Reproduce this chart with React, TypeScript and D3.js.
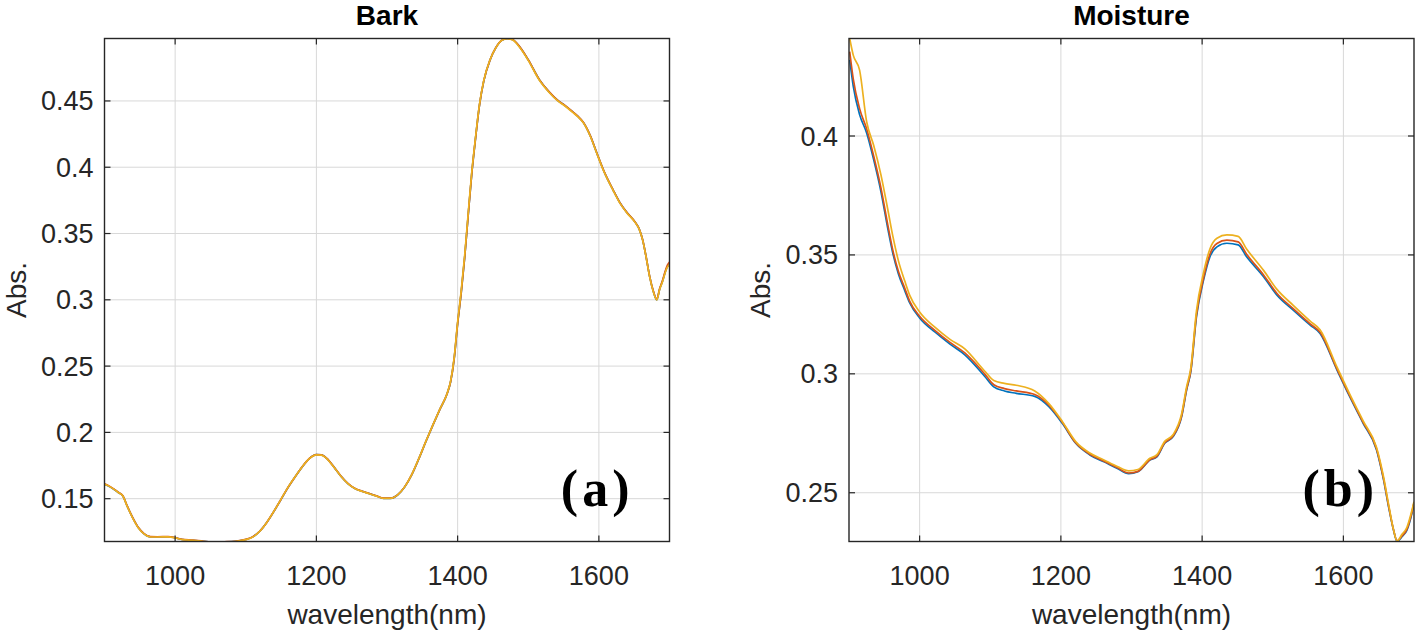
import React from "react";
import * as d3 from "d3";

// ---------- DATA ----------
const xTicks = [1000, 1200, 1400, 1600];
const xTickLabels = ["1000", "1200", "1400", "1600"];
const barkYTicks = [0.15, 0.2, 0.25, 0.3, 0.35, 0.4, 0.45];
const barkYTickLabels = ["0.15", "0.2", "0.25", "0.3", "0.35", "0.4", "0.45"];
const moistYTicks = [0.25, 0.3, 0.35, 0.4];
const moistYTickLabels = ["0.25", "0.3", "0.35", "0.4"];

const barkWl = [900, 904, 912, 920, 926, 932, 940, 948, 956, 965, 975, 990, 1000, 1010, 1025, 1040, 1055, 1070, 1085, 1100, 1110, 1120, 1130, 1140, 1150, 1160, 1170, 1180, 1190, 1200, 1207, 1215, 1225, 1235, 1245, 1255, 1265, 1275, 1285, 1295, 1305, 1315, 1325, 1335, 1345, 1355, 1365, 1375, 1385, 1390, 1395, 1400, 1405, 1410, 1415, 1420, 1425, 1431, 1437, 1446, 1454, 1462, 1470, 1478, 1488, 1500, 1516, 1530, 1541, 1552, 1563, 1570, 1578, 1588, 1597, 1608, 1620, 1630, 1640, 1651, 1657, 1662, 1667, 1672, 1677, 1682, 1686, 1690, 1694, 1697, 1700];
const barkBlue = [0.1608, 0.16, 0.1575, 0.1545, 0.152, 0.1445, 0.1355, 0.128, 0.1235, 0.1212, 0.1212, 0.1213, 0.1205, 0.1192, 0.1186, 0.1178, 0.1172, 0.1174, 0.1178, 0.1192, 0.1212, 0.1255, 0.1322, 0.1405, 0.1495, 0.1585, 0.1665, 0.174, 0.1802, 0.1832, 0.183, 0.1802, 0.1738, 0.1668, 0.1612, 0.1575, 0.1555, 0.1538, 0.152, 0.1503, 0.1503, 0.1528, 0.1588, 0.168, 0.18, 0.193, 0.2055, 0.2175, 0.229, 0.238, 0.255, 0.282, 0.305, 0.332, 0.364, 0.395, 0.42, 0.447, 0.465, 0.481, 0.49, 0.4955, 0.497, 0.4962, 0.4907, 0.481, 0.4658, 0.4565, 0.4507, 0.4465, 0.4417, 0.4385, 0.4338, 0.4235, 0.4108, 0.396, 0.383, 0.373, 0.3656, 0.3588, 0.3535, 0.3452, 0.332, 0.3173, 0.3065, 0.3, 0.308, 0.3138, 0.321, 0.325, 0.327];
const barkRed = [0.1612, 0.1603, 0.1578, 0.1547, 0.1522, 0.1447, 0.1357, 0.1282, 0.1237, 0.1214, 0.1213, 0.1214, 0.1206, 0.1193, 0.1187, 0.1179, 0.1173, 0.1175, 0.1179, 0.1193, 0.1213, 0.1256, 0.1323, 0.1406, 0.1496, 0.1586, 0.1666, 0.1741, 0.1803, 0.1833, 0.1831, 0.1803, 0.1739, 0.1669, 0.1613, 0.1576, 0.1556, 0.1539, 0.1521, 0.1504, 0.1504, 0.1529, 0.1589, 0.1681, 0.1801, 0.1931, 0.2056, 0.2176, 0.2291, 0.2381, 0.2551, 0.2821, 0.3051, 0.3321, 0.3641, 0.3951, 0.4201, 0.4471, 0.4651, 0.4811, 0.4901, 0.4956, 0.4971, 0.4963, 0.4908, 0.4811, 0.4659, 0.4566, 0.4508, 0.4466, 0.4418, 0.4386, 0.4339, 0.4236, 0.4109, 0.3961, 0.3831, 0.3731, 0.3657, 0.3589, 0.3536, 0.3453, 0.3321, 0.3175, 0.3068, 0.3003, 0.3084, 0.3143, 0.3218, 0.3262, 0.3285];
const barkYellow = [0.161, 0.1601, 0.1576, 0.1545, 0.152, 0.1444, 0.1354, 0.1279, 0.1234, 0.1211, 0.1211, 0.1212, 0.1204, 0.1191, 0.1185, 0.1177, 0.1171, 0.1173, 0.1177, 0.1191, 0.1211, 0.1255, 0.1323, 0.1406, 0.1497, 0.1587, 0.1666, 0.1741, 0.1802, 0.1831, 0.1829, 0.1801, 0.1737, 0.1667, 0.1611, 0.1574, 0.1554, 0.1537, 0.1519, 0.1502, 0.1502, 0.1528, 0.1589, 0.1682, 0.1802, 0.1932, 0.2057, 0.2177, 0.2292, 0.2385, 0.2558, 0.2832, 0.3065, 0.3336, 0.3655, 0.3962, 0.4209, 0.4476, 0.4654, 0.4812, 0.49, 0.4955, 0.497, 0.4959, 0.4903, 0.4806, 0.4654, 0.4562, 0.4504, 0.4462, 0.4414, 0.4382, 0.4335, 0.4232, 0.4105, 0.3957, 0.3827, 0.3727, 0.3653, 0.3586, 0.3533, 0.345, 0.3318, 0.3171, 0.3063, 0.2999, 0.3078, 0.3135, 0.3206, 0.3246, 0.3266];

const moistWl = [901, 906, 915, 925, 935, 945, 955, 962, 970, 979, 986, 1000, 1022, 1043, 1064, 1092, 1105, 1120, 1137, 1163, 1183, 1202, 1221, 1241, 1261, 1280, 1296, 1309, 1326, 1336, 1347, 1359, 1371, 1378, 1384, 1392, 1402, 1411, 1421, 1435, 1451, 1463, 1487, 1506, 1529, 1553, 1567, 1591, 1609, 1628, 1647, 1657, 1664, 1671, 1676, 1683, 1690, 1697, 1700];
const moistBlue = [0.432, 0.421, 0.409, 0.4013, 0.39, 0.377, 0.361, 0.3508, 0.342, 0.335, 0.3298, 0.3235, 0.3175, 0.3125, 0.308, 0.299, 0.2945, 0.2928, 0.2918, 0.2905, 0.2862, 0.2792, 0.2708, 0.2659, 0.263, 0.2602, 0.258, 0.2588, 0.2637, 0.2651, 0.2708, 0.2736, 0.282, 0.2932, 0.301, 0.324, 0.3394, 0.3492, 0.3534, 0.3549, 0.3542, 0.3492, 0.3408, 0.3331, 0.3268, 0.3205, 0.317, 0.3016, 0.2904, 0.2792, 0.268, 0.2553, 0.2441, 0.2343, 0.2296, 0.2315, 0.2343, 0.2413, 0.2455];
const moistRed = [0.4355, 0.424, 0.4115, 0.403, 0.3915, 0.3785, 0.3625, 0.352, 0.343, 0.336, 0.3305, 0.3242, 0.3182, 0.3132, 0.3088, 0.3, 0.2954, 0.2938, 0.2928, 0.2913, 0.2868, 0.2796, 0.271, 0.2662, 0.2633, 0.2605, 0.2583, 0.259, 0.2639, 0.2654, 0.271, 0.2739, 0.2824, 0.2936, 0.3015, 0.3248, 0.3403, 0.3503, 0.3548, 0.3562, 0.3555, 0.3503, 0.3416, 0.3338, 0.3274, 0.321, 0.3175, 0.302, 0.2908, 0.2796, 0.2684, 0.2557, 0.2445, 0.2344, 0.2298, 0.2318, 0.2347, 0.2418, 0.2458];
const moistYellow = [0.441, 0.434, 0.4277, 0.406, 0.396, 0.384, 0.369, 0.358, 0.3475, 0.339, 0.333, 0.326, 0.3195, 0.3145, 0.3105, 0.3012, 0.2972, 0.296, 0.2952, 0.2928, 0.2875, 0.28, 0.2715, 0.2667, 0.2638, 0.261, 0.2592, 0.2598, 0.2645, 0.266, 0.2716, 0.2745, 0.2832, 0.2945, 0.3025, 0.3265, 0.3425, 0.3525, 0.357, 0.3584, 0.3578, 0.3525, 0.3435, 0.3355, 0.3288, 0.3222, 0.3185, 0.3028, 0.2915, 0.2802, 0.269, 0.2565, 0.2452, 0.2345, 0.2297, 0.2325, 0.2355, 0.2425, 0.2462];

const seriesColors = ["#0072BD", "#D95319", "#EDB120"];

// ---------- LAYOUT ----------
const W = 1418;
const H = 634;
const TOP = 38.5;
const BOTTOM = 541.5;
const FONT = "'Liberation Sans', Arial, Helvetica, sans-serif";

type PanelProps = {
  id: string;
  x0: number;
  x1: number;
  title: string;
  tag: string;
  yDomain: [number, number];
  yTicks: number[];
  yTickLabels: string[];
  wl: number[];
  series: number[][];
};

function Panel(p: PanelProps) {
  const x = d3.scaleLinear().domain([900, 1700]).range([p.x0, p.x1]);
  const y = d3.scaleLinear().domain(p.yDomain).range([BOTTOM, TOP]);
  const line = d3
    .line<number>()
    .x((_, i) => x(p.wl[i]))
    .y((v) => y(v))
    .curve(d3.curveMonotoneX);
  const tick = 6;
  const cx = (p.x0 + p.x1) / 2;
  const cy = (TOP + BOTTOM) / 2;
  const axisColor = "#262626";
  return (
    <g>
      <defs>
        <clipPath id={p.id}>
          <rect x={p.x0} y={TOP} width={p.x1 - p.x0} height={BOTTOM - TOP} />
        </clipPath>
      </defs>
      <rect x={p.x0} y={TOP} width={p.x1 - p.x0} height={BOTTOM - TOP} fill="#fff" />
      {/* grid */}
      {xTicks.map((t) => (
        <line key={"gx" + t} x1={x(t)} x2={x(t)} y1={TOP} y2={BOTTOM} stroke="#d8d8d8" strokeWidth={1} />
      ))}
      {p.yTicks.map((t) => (
        <line key={"gy" + t} x1={p.x0} x2={p.x1} y1={y(t)} y2={y(t)} stroke="#d8d8d8" strokeWidth={1} />
      ))}
      {/* lines */}
      <g clipPath={`url(#${p.id})`}>
        {p.series.map((s, i) => (
          <path key={i} d={line(s) || ""} fill="none" stroke={seriesColors[i]} strokeWidth={1.7} strokeLinejoin="round" />
        ))}
      </g>
      {/* box */}
      <rect x={p.x0} y={TOP} width={p.x1 - p.x0} height={BOTTOM - TOP} fill="none" stroke={axisColor} strokeWidth={1.4} />
      {/* ticks */}
      {xTicks.map((t) => (
        <g key={"tx" + t}>
          <line x1={x(t)} x2={x(t)} y1={BOTTOM} y2={BOTTOM - tick} stroke={axisColor} strokeWidth={1.2} />
          <line x1={x(t)} x2={x(t)} y1={TOP} y2={TOP + tick} stroke={axisColor} strokeWidth={1.2} />
        </g>
      ))}
      {p.yTicks.map((t) => (
        <g key={"ty" + t}>
          <line x1={p.x0} x2={p.x0 + tick} y1={y(t)} y2={y(t)} stroke={axisColor} strokeWidth={1.2} />
          <line x1={p.x1} x2={p.x1 - tick} y1={y(t)} y2={y(t)} stroke={axisColor} strokeWidth={1.2} />
        </g>
      ))}
      {/* tick labels */}
      {xTicks.map((t, i) => (
        <text key={"lx" + t} x={x(t)} y={585} textAnchor="middle" fontFamily={FONT} fontSize={27} fill={axisColor}>
          {xTickLabels[i]}
        </text>
      ))}
      {p.yTicks.map((t, i) => (
        <text key={"ly" + t} x={p.x0 - 11} y={y(t) + 9.5} textAnchor="end" fontFamily={FONT} fontSize={27} fill={axisColor}>
          {p.yTickLabels[i]}
        </text>
      ))}
      {/* labels */}
      <text x={cx} y={624} textAnchor="middle" fontFamily={FONT} fontSize={28} fill={axisColor}>
        wavelength(nm)
      </text>
      <text
        transform={`translate(${p.x0 - 79},${cy}) rotate(-90)`}
        textAnchor="middle"
        fontFamily={FONT}
        fontSize={28}
        fill={axisColor}
      >
        Abs.
      </text>
      <text x={cx} y={25} textAnchor="middle" fontFamily={FONT} fontSize={28} fontWeight="bold" fill="#000">
        {p.title}
      </text>
      <text
        x={p.x1 - 36}
        y={506}
        textAnchor="end"
        fontFamily="'Liberation Serif', 'Times New Roman', serif"
        fontSize={52}
        fontWeight="bold"
        letterSpacing={4}
        fill="#000"
      >
        {p.tag}
      </text>
    </g>
  );
}

export default function App() {
  return (
    <svg
      width={W}
      height={H}
      viewBox={`0 0 ${W} ${H}`}
      style={{ position: "fixed", left: 0, top: 0, background: "#fff" }}
    >
      <rect width={W} height={H} fill="#fff" />
      <Panel
        id="clipA"
        x0={104.5}
        x1={669.5}
        title="Bark"
        tag="(a)"
        yDomain={[0.1177, 0.4971]}
        yTicks={barkYTicks}
        yTickLabels={barkYTickLabels}
        wl={barkWl}
        series={[barkBlue, barkRed, barkYellow]}
      />
      <Panel
        id="clipB"
        x0={849}
        x1={1414}
        title="Moisture"
        tag="(b)"
        yDomain={[0.2295, 0.441]}
        yTicks={moistYTicks}
        yTickLabels={moistYTickLabels}
        wl={moistWl}
        series={[moistBlue, moistRed, moistYellow]}
      />
    </svg>
  );
}
